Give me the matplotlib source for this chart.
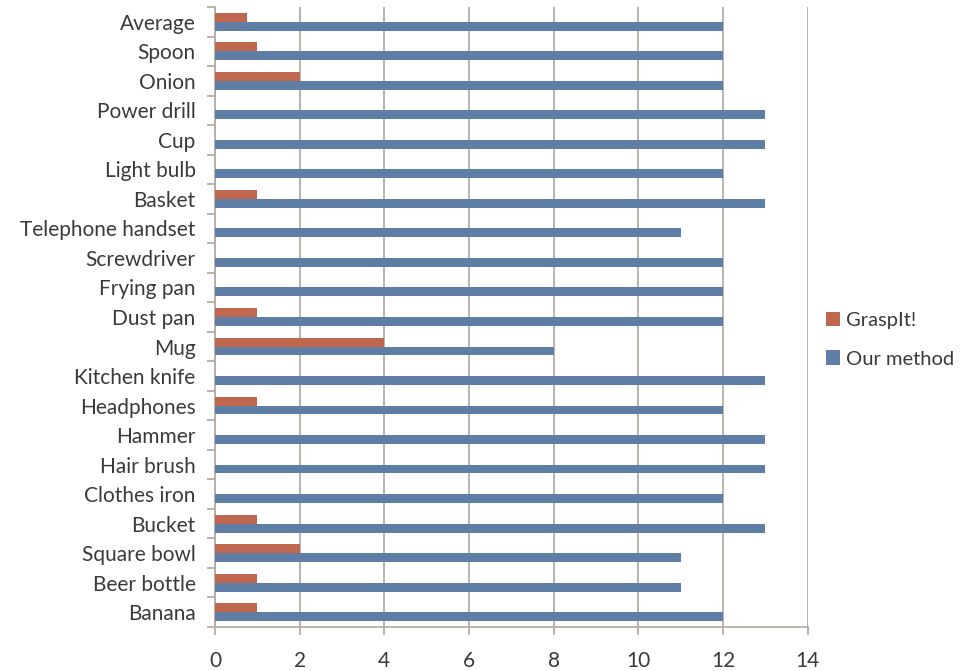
import numpy as np
from matplotlib import pyplot as plt

objects = ["Banana", "Beer bottle", "Square bowl", "Bucket", "Clothes iron",
           "Hair brush", "Hammer", "Headphones", "Kitchen knife", "Mug",
           "Dust pan", "Frying pan", "Screwdriver", "Telephone handset",
           "Basket", "Light bulb", "Cup", "Power drill", "Onion", "Spoon",
           "Average"]
graspit = [1, 1, 2, 1, 0, 0, 0, 1, 0, 4, 1, 0, 0, 0, 1, 0, 0, 0, 2, 1, 0.75]
ours = [12, 11, 11, 13, 12, 13, 13, 12, 13, 8, 12, 12, 12, 11, 13, 12, 13, 13, 12, 12, 12]

plt.rcParams['font.family'] = ['Lato', 'DejaVu Sans']
TXT = '#3a3a3a'
GRID = '#b5aca6'
FS = 15

fig = plt.figure(figsize=(9.66, 6.71), dpi=100)
ax = fig.add_axes([0.2226, 0.0656, 0.6134, 0.924])

y = np.arange(len(objects))
h = 0.3
ax.barh(y + h / 2, graspit, height=h, color='#c0674f', label='GraspIt!', zorder=3)
ax.barh(y - h / 2, ours, height=h, color='#5f7ea6', label='Our method', zorder=3)

ax.set_xlim(0, 14)
ax.set_ylim(-0.5, len(objects) - 0.5)
ax.set_xticks(range(0, 15, 2))
ax.xaxis.grid(True, color=GRID, linewidth=1.3, zorder=0)

# labels centred on categories, tick marks on the boundaries
ax.set_yticks(y)
ax.set_yticklabels(objects)
ax.tick_params(axis='y', length=0, pad=14, labelsize=FS, labelcolor=TXT)
ax.set_yticks(np.arange(-0.5, len(objects)), minor=True)
ax.tick_params(axis='y', which='minor', length=6, color=GRID, width=1.3)
ax.tick_params(axis='x', length=6, color=GRID, width=1.3, labelsize=FS,
               labelcolor=TXT, pad=11)

for s in ['top', 'right']:
    ax.spines[s].set_visible(False)
for s in ['left', 'bottom']:
    ax.spines[s].set_color(GRID)
    ax.spines[s].set_linewidth(1.3)

ax.legend(loc='center left', bbox_to_anchor=(1.0, 0.463), frameon=False,
          fontsize=14.5, labelcolor=TXT, handlelength=0.7, handleheight=0.7,
          handletextpad=0.3, labelspacing=1.05, borderaxespad=0.7,
          borderpad=0.2)

fig.savefig('out.png')
